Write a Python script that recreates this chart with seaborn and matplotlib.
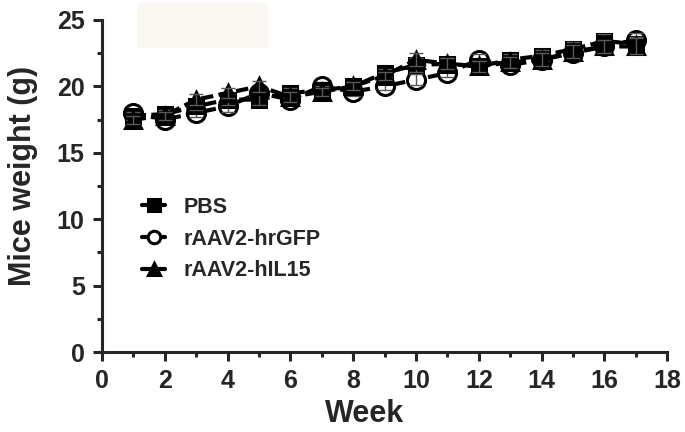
import matplotlib.pyplot as plt
import matplotlib.patches as patches
from matplotlib.ticker import MultipleLocator
import seaborn as sns
import pandas as pd
import numpy as np

weeks = list(range(1, 18))
groups = ['PBS', 'rAAV2-hrGFP', 'rAAV2-hIL15']

pbs = [17.8, 17.9, 18.5, 19.0, 19.0, 19.5, 19.7, 20.0, 21.0, 21.6, 21.7, 21.5, 22.0, 22.3, 22.8, 23.4, 23.2]
gfp = [18.0, 17.5, 18.0, 18.5, 19.5, 19.0, 20.0, 19.6, 20.0, 20.5, 21.0, 22.0, 21.6, 22.0, 22.5, 23.0, 23.5]
il15 = [17.5, 17.8, 19.0, 19.5, 20.0, 19.2, 19.6, 20.0, 20.8, 22.0, 21.7, 21.5, 21.8, 22.0, 22.6, 23.0, 23.0]

pbs_err = [0.3, 0.3, 0.3, 0.4, 0.4, 0.4, 0.3, 0.3, 0.3, 0.5, 0.4, 0.4, 0.4, 0.4, 0.5, 0.5, 0.5]
gfp_err = [0.3, 0.3, 0.3, 0.4, 0.4, 0.4, 0.3, 0.3, 0.3, 0.4, 0.3, 0.4, 0.3, 0.4, 0.4, 0.5, 0.5]
il15_err = [0.3, 0.3, 0.4, 0.4, 0.4, 0.4, 0.3, 0.3, 0.3, 0.5, 0.4, 0.4, 0.4, 0.5, 0.5, 0.5, 0.6]

df = pd.DataFrame({
    'Week': weeks * 3,
    'Weight': pbs + gfp + il15,
    'Err': pbs_err + gfp_err + il15_err,
    'Group': [g for g in groups for _ in weeks],
})

sns.set_style('ticks')
plt.rcParams['font.family'] = ['Liberation Sans', 'DejaVu Sans']
plt.rcParams['font.weight'] = 'bold'

fig = plt.figure(figsize=(6.85, 4.32), dpi=100)
ax = fig.add_axes([0.149, 0.185, 0.825, 0.769])

# faint scan artifact at the top
fig.patches.append(patches.Rectangle((137 / 685, 1 - 48 / 432), 131 / 685, 45 / 432,
                                     transform=fig.transFigure, facecolor='#fbf8f4',
                                     edgecolor='none', zorder=0))

styles = {
    'rAAV2-hrGFP': dict(marker='o', mfc='white', ms=13, z=3),
    'PBS': dict(marker='s', mfc='black', ms=10.5, z=4),
    'rAAV2-hIL15': dict(marker='^', mfc='black', ms=12, z=5),
}

for g in ['rAAV2-hrGFP', 'PBS', 'rAAV2-hIL15']:
    sub = df[df['Group'] == g]
    st = styles[g]
    ax.errorbar(sub['Week'], sub['Weight'], yerr=sub['Err'], fmt='none',
                ecolor='0.35', elinewidth=1, capsize=5, capthick=1, zorder=st['z'] + 0.5)
    sns.lineplot(data=sub, x='Week', y='Weight', ax=ax, color='black',
                 linewidth=3, linestyle=(0, (3, 1.3)), marker=st['marker'],
                 markersize=st['ms'], markerfacecolor=st['mfc'],
                 markeredgecolor='black', markeredgewidth=2.2, zorder=st['z'],
                 label=g)

ax.set_xlim(0, 18)
ax.set_ylim(0, 25)
ax.xaxis.set_major_locator(MultipleLocator(2))
ax.xaxis.set_minor_locator(MultipleLocator(1))
ax.yaxis.set_major_locator(MultipleLocator(5))
ax.yaxis.set_minor_locator(MultipleLocator(2.5))
ax.tick_params(which='major', length=6.5, width=2.2, labelsize=18, pad=6)
ax.tick_params(which='minor', length=3.5, width=2.2)
sns.despine(ax=ax)
for s in ['left', 'bottom']:
    ax.spines[s].set_linewidth(2.2)
ax.set_xlabel('Week', fontsize=22, fontweight='bold')
ax.set_ylabel('Mice weight (g)', fontsize=22, fontweight='bold')
ax.xaxis.set_label_coords(0.464, -0.14)
ax.yaxis.set_label_coords(-0.113, 0.53)

handles, labels = ax.get_legend_handles_labels()
order = [labels.index(g) for g in groups]
leg = ax.legend([handles[i] for i in order], [labels[i] for i in order],
                loc='center left', bbox_to_anchor=(0.036, 0.34), frameon=False,
                prop={'size': 15.5, 'weight': 'bold'}, handlelength=1.1,
                handletextpad=0.85, labelspacing=0.5)
for h in leg.legend_handles:
    h.set_linestyle('-')
    h.set_markersize(9)

fig.canvas.draw()
for t in ax.xaxis.get_major_ticks() + ax.yaxis.get_major_ticks():
    t.label1.set_fontweight('bold')

fig.savefig('out.png', dpi=100)
